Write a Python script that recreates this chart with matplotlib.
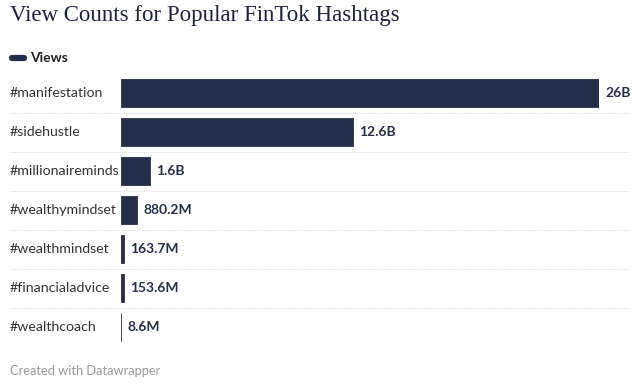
import matplotlib
matplotlib.use("Agg")
import matplotlib.pyplot as plt
from matplotlib.lines import Line2D
import matplotlib.transforms as mtransforms

categories = ["#manifestation", "#sidehustle", "#millionaireminds", "#wealthymindset",
              "#wealthmindset", "#financialadvice", "#wealthcoach"]
views = [26e9, 12.6e9, 1.6e9, 880.2e6, 163.7e6, 153.6e6, 8.6e6]
value_labels = ["26B", "12.6B", "1.6B", "880.2M", "163.7M", "153.6M", "8.6M"]

W, H = 640, 389
fig = plt.figure(figsize=(W/100, H/100), dpi=100)
fig.patch.set_facecolor("white")

bar_color = "#252f4a"
text_dark = "#333333"

# axes geometry in pixels
x0, x1 = 121, 599
row_top, row_h = 73.5, 39
n = len(categories)
ax = fig.add_axes([x0/W, (H - (row_top + n*row_h))/H, (x1-x0)/W, n*row_h/H])
ax.set_xlim(0, max(views))
ax.set_ylim(n - 0.5, -0.5)
ax.axis("off")

ypos = list(range(n))
ax.barh(ypos, views, height=0.72, color=bar_color, edgecolor=bar_color, linewidth=0.6)

# value labels
pad = mtransforms.offset_copy(ax.transData, fig=fig, x=6, y=0, units="dots")
for y, v, lab in zip(ypos, views, value_labels):
    ax.text(v, y, lab, transform=pad, ha="left", va="center", fontsize=10,
            fontweight="bold", color=bar_color, family="Lato", clip_on=False)

# category labels
for y, c in zip(ypos, categories):
    fig.text(10/W, 1 - (row_top + (y + 0.5)*row_h)/H, c, ha="left", va="center",
             fontsize=10.2, color=text_dark, family="Lato")

# separators
for i in range(n - 1):
    yy = 1 - (row_top + (i + 1)*row_h)/H
    fig.add_artist(Line2D([10/W, 629/W], [yy, yy], color="#dddddd", linewidth=0.8,
                          linestyle=(0, (1, 1)), transform=fig.transFigure))

# title
fig.text(10/W, 1 - 15/H, "View Counts for Popular FinTok Hashtags", ha="left", va="center",
         fontsize=16.5, color="#1d2440", family="Liberation Serif")

# legend
fig.add_artist(Line2D([12/W, 24/W], [1 - 58/H, 1 - 58/H], color=bar_color, linewidth=4.5,
                      solid_capstyle="round", transform=fig.transFigure))
fig.text(30/W, 1 - 58/H, "Views", ha="left", va="center", fontsize=10, fontweight="bold",
         color="#222222", family="Lato")

# footer
fig.text(10/W, 1 - 371/H, "Created with Datawrapper", ha="left", va="center",
         fontsize=9.3, color="#999999", family="Lato")

fig.savefig("out.png", dpi=100, facecolor="white")
